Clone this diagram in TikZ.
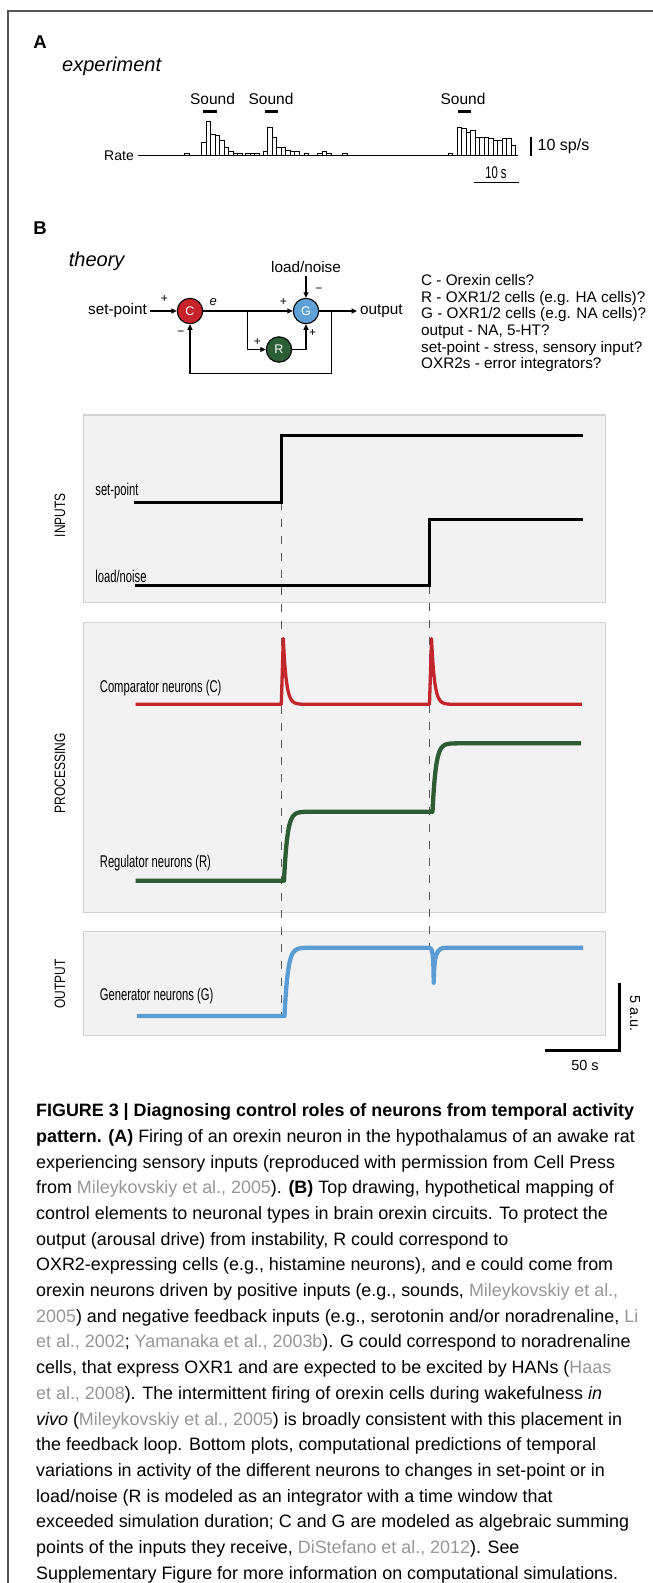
\documentclass[tikz,border=0pt]{standalone}
\usepackage{fontspec}
\setmainfont{Liberation Sans}
\newfontfamily\narrowfont[FakeStretch=0.66]{Liberation Sans}
\newfontfamily\rowfont[FakeStretch=0.8]{Liberation Sans}
\usetikzlibrary{arrows.meta}

\definecolor{framegray}{RGB}{85,85,85}
\definecolor{cellred}{RGB}{200,35,45}
\definecolor{cellblue}{RGB}{95,160,215}
\definecolor{cellgreen}{RGB}{45,95,55}
\definecolor{tracered}{RGB}{195,38,45}
\definecolor{tracegreen}{RGB}{45,92,52}
\definecolor{traceblue}{RGB}{90,157,212}
\definecolor{panelgray}{RGB}{242,242,242}
\definecolor{paneledge}{RGB}{210,210,210}
\definecolor{refgray}{RGB}{150,150,150}

\newcommand{\fsz}[1]{\fontsize{#1}{#1}\selectfont}
\newcommand{\citegray}[1]{\textcolor{refgray}{#1}}

\begin{document}
\begin{tikzpicture}[x=1pt,y=-1pt,
  >={Triangle[length=5.5pt,width=5pt]},
  every node/.style={inner sep=1.5pt},
  cell/.style={circle,draw,line width=1.1pt,minimum size=25.4pt,inner sep=0pt,text=white,font=\fsz{12.5}},
  signlabel/.style={font=\fsz{12},inner sep=0pt},
  wire/.style={line width=1.1pt},
  panel/.style={fill=panelgray,draw=paneledge,line width=1.2pt},
  dashline/.style={black!65,line width=1pt,dash pattern=on 8pt off 9pt},
  plotlabel/.style={font=\narrowfont\fsz{17},anchor=west,inner sep=0pt},
  rowlabel/.style={font=\rowfont\fsz{15},rotate=90,inner sep=0pt},
  intrace/.style={line width=3pt,line join=miter},
  ctrace/.style={tracered,line width=3.3pt,line join=round},
  rtrace/.style={tracegreen,line width=4.3pt,line join=round},
  gtrace/.style={traceblue,line width=4.3pt,line join=round},
  bar/.style={line width=0.7pt,fill=white}]

\useasboundingbox (0,0) rectangle (653,1583);
\draw[line width=2pt,framegray] (8,1583) -- (8,11) -- (653,11);

% A: experiment
\node[font=\bfseries\fsz{18.5}] (labA) at (40,41.7) {A};
\node[font=\itshape\fsz{20},anchor=west,inner sep=0pt] (expt) at (62,66.7) {experiment};

\node[font=\fsz{15.5}] (snd1) at (212.5,99) {Sound};
\node[font=\fsz{15.5}] (snd2) at (271,99) {Sound};
\node[font=\fsz{15.5}] (snd3) at (463,99) {Sound};
\foreach \a/\b in {203/217,265/278,457.5/471}
  \draw[line width=2.7pt] (\a,111.7) -- (\b,111.7);

\node[font=\fsz{14},anchor=east,inner sep=3.5pt] (rate) at (137.5,155.7) {Rate};
\foreach \x/\h in {184.6/2.3,201.7/13.3,206.2/34.3,210.7/21.3,215.2/20.7,219.7/15.7,224.2/8.3,228.7/4,233.2/2.3,237.7/2.3,
  245.8/2.3,250.3/2.3,254.8/2.3,
  263.3/4,267.8/28,272.3/18.3,276.8/8.3,281.3/8.3,285.8/5.7,290.3/4,294.8/4,304.2/2,317.5/2.3,322/4,326.5/2.3,342.5/2.3,
  447.9/2.3,457.1/28.3,461.6/27,466.1/23.7,470.6/25,475.1/18,479.6/18,484.1/18,488.6/17.3,493.1/15,497.6/15,502.1/17.3,506.6/17.3,511.1/10.7}
  \draw[bar] (\x,155.7) rectangle ++(4.5,-\h);
\draw[line width=0.9pt] (rate.east) -- (518,155.7);

\draw[line width=2.5pt] (531,136.7) -- (531,155.7);
\node[font=\fsz{16},anchor=west,inner sep=0pt] (spsbar) at (537.5,146.7) {10 sp/s};
\draw[line width=1.3pt] (474,182.3) -- (519,182.3);
\node[font=\narrowfont\fsz{17}] (tenbar) at (496,173) {10 s};

% B: theory
\node[font=\bfseries\fsz{18.5}] (labB) at (40,228.3) {B};
\node[font=\itshape\fsz{20},anchor=west,inner sep=0pt] (theo) at (68.7,261.7) {theory};

\node[cell,fill=cellred] (C) at (190,311) {C};
\node[cell,fill=cellblue] (G) at (306,311) {G};
\node[cell,fill=cellgreen] (R) at (279,349.5) {R};
\node[font=\fsz{15.3},anchor=east,inner sep=3pt] (setp) at (150,311) {set-point};
\node[font=\fsz{15.3},anchor=west,inner sep=3pt] (outp) at (357,311) {output};
\node[font=\fsz{15.3},inner sep=3pt] (load) at (306,266.7) {load/noise};
\coordinate (split) at (247.7,311);
\coordinate (tap) at (331.7,311);
\coordinate (tapdown) at (331.7,373.3);

\draw[wire,->] (setp) -- (C);
\draw[wire,->] (C) -- (G);
\draw[wire,->] (split) |- (R);
\draw[wire,->] (R) -| (G);
\draw[wire,->] (G) -- (outp);
\draw[wire,->] (load) -- (G);
\draw[wire,->] (tap) -- (tapdown) -| (C);

\node[signlabel] (s1) at (164.3,299.3) {+};
\node[signlabel] (s2) at (181,333.3) {−};
\node[signlabel,font=\itshape\fsz{13}] (err) at (213.3,302.5) {e};
\node[signlabel] (s3) at (283.3,302.3) {+};
\node[signlabel] (s4) at (319,290) {−};
\node[signlabel] (s5) at (257.3,341.7) {+};
\node[signlabel] (s6) at (312.7,333.3) {+};

\node[anchor=north west,align=left,font=\fontsize{15.3}{16.67}\selectfont,inner sep=0pt] (key) at (421,274.3)
  {C - Orexin cells?\\R - OXR1/2 cells (e.g. HA cells)?\\G - OXR1/2 cells (e.g. NA cells)?\\output - NA, 5-HT?\\set-point - stress, sensory input?\\OXR2s - error integrators?};

% panels
\draw[panel] (83.4,415) rectangle (605.8,602.3);
\draw[panel] (83.4,622.3) rectangle (605.8,912.3);
\draw[panel] (83.4,931.7) rectangle (605.8,1035.7);

\node[rowlabel] (rowin) at (60,515) {INPUTS};
\node[rowlabel] (rowproc) at (60,773) {PROCESSING};
\node[rowlabel] (rowout) at (60,983.7) {OUTPUT};

\draw[dashline] (281.3,502.3) -- (281.3,1016);
\draw[dashline] (429.5,585.7) -- (429.5,947.7);

% inputs
\draw[intrace] (133.8,502.3) -- (281.3,502.3) -- (281.3,435.7) -- (583,435.7);
\draw[intrace] (134.5,585.7) -- (429.5,585.7) -- (429.5,519) -- (583,519);
\node[plotlabel] (lsp) at (95.2,490.7) {set-point};
\node[plotlabel] (lln) at (95.2,576.7) {load/noise};

% processing
\draw[ctrace] (135.6,704.3) -- (281.3,704.3) -- (283.3,638.5)
  -- plot[domain=0:20,samples=41] ({283.3+\x},{704.3-65.8*exp(-\x/3)})
  -- (429.5,704.3) -- (431.5,638.5)
  -- plot[domain=0:20,samples=41] ({431.5+\x},{704.3-65.8*exp(-\x/3)})
  -- (582,704.3);
\draw[rtrace] (135.6,880.7) -- (284,880.7)
  -- plot[domain=0:25,samples=51] ({284+\x},{880.7-69*(1-exp(-\x/3.3))})
  -- (432.5,811.7)
  -- plot[domain=0:25,samples=51] ({432.5+\x},{811.7-68.4*(1-exp(-\x/3.3))})
  -- (581.2,743.3);
\node[plotlabel] (lc) at (99.7,688.3) {Comparator neurons (C)};
\node[plotlabel] (lr) at (99.7,863.3) {Regulator neurons (R)};

% output
\draw[gtrace] (136.8,1016) -- (284.5,1016)
  -- plot[domain=0:25,samples=51] ({284.5+\x},{1016-68.3*(1-exp(-\x/3.3))})
  -- (429.5,947.7) .. controls (432.5,947.7) and (433.5,955) .. (433.7,982.7)
  .. controls (434.2,955) and (436,947.7) .. (446,947.7) -- (583,947.7);
\node[plotlabel] (lg) at (99.7,996) {Generator neurons (G)};

\draw[line width=3pt] (544.9,1050) -- (619,1050) -- (619,982.7);
\node[font=\fsz{14.5},rotate=-90] (aubar) at (635,1013.3) {5 a.u.};
\node[font=\fsz{14.5}] (secbar) at (585,1065) {50 s};

% caption
\node[anchor=north west,align=left,font=\fontsize{17.9}{25.7}\selectfont,inner sep=0pt] (caption) at (36,1103.5)
{\textbf{FIGURE 3 | Diagnosing control roles of neurons from temporal activity}\\
\textbf{pattern. (A)} Firing of an orexin neuron in the hypothalamus of an awake rat\\
experiencing sensory inputs (reproduced with permission from Cell Press\\
from \citegray{Mileykovskiy et al., 2005}). \textbf{(B)} Top drawing, hypothetical mapping of\\
control elements to neuronal types in brain orexin circuits. To protect the\\
output (arousal drive) from instability, R could correspond to\\
OXR2-expressing cells (e.g., histamine neurons), and e could come from\\
orexin neurons driven by positive inputs (e.g., sounds, \citegray{Mileykovskiy et al.,}\\
\citegray{2005}) and negative feedback inputs (e.g., serotonin and/or noradrenaline, \citegray{Li}\\
\citegray{et al., 2002}; \citegray{Yamanaka et al., 2003b}). G could correspond to noradrenaline\\
cells, that express OXR1 and are expected to be excited by HANs (\citegray{Haas}\\
\citegray{et al., 2008}). The intermittent firing of orexin cells during wakefulness \textit{in}\\
\textit{vivo} (\citegray{Mileykovskiy et al., 2005}) is broadly consistent with this placement in\\
the feedback loop. Bottom plots, computational predictions of temporal\\
variations in activity of the different neurons to changes in set-point or in\\
load/noise (R is modeled as an integrator with a time window that\\
exceeded simulation duration; C and G are modeled as algebraic summing\\
points of the inputs they receive, \citegray{DiStefano et al., 2012}). See\\
Supplementary Figure for more information on computational simulations.};
\end{tikzpicture}
\end{document}
